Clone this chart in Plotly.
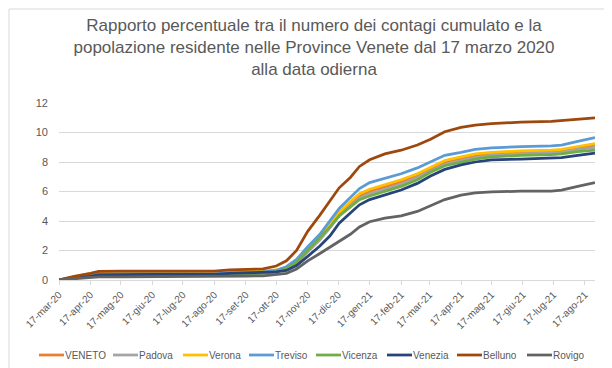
import plotly.graph_objects as go

# ---------------- data ----------------
dates = [
    "2020-03-17", "2020-04-01", "2020-04-17", "2020-04-25", "2020-05-17",
    "2020-06-17", "2020-07-17", "2020-08-17", "2020-09-01", "2020-09-17",
    "2020-10-04", "2020-10-17", "2020-10-27", "2020-11-06", "2020-11-17",
    "2020-11-29", "2020-12-09", "2020-12-18", "2020-12-29", "2021-01-07",
    "2021-01-17", "2021-02-01", "2021-02-17", "2021-03-05", "2021-03-18",
    "2021-04-01", "2021-04-17", "2021-05-01", "2021-05-17", "2021-06-15",
    "2021-07-15", "2021-07-25", "2021-08-10", "2021-08-27",
]

veneto = [0, 0.15, 0.32, 0.40, 0.42, 0.42, 0.42, 0.42, 0.48, 0.50,
          0.53, 0.60, 0.80, 1.20, 1.95, 2.80, 3.65, 4.50, 5.15, 5.70,
          6.00, 6.30, 6.65, 7.05, 7.50, 7.95, 8.20, 8.40, 8.55, 8.65,
          8.70, 8.75, 8.95, 9.15]
padova = [0, 0.14, 0.32, 0.42, 0.44, 0.44, 0.44, 0.44, 0.47, 0.48,
          0.50, 0.56, 0.76, 1.15, 1.90, 2.70, 3.55, 4.35, 5.00, 5.55,
          5.85, 6.15, 6.50, 6.95, 7.40, 7.85, 8.10, 8.30, 8.45, 8.55,
          8.60, 8.65, 8.85, 9.00]
verona = [0, 0.20, 0.45, 0.50, 0.50, 0.50, 0.50, 0.50, 0.55, 0.58,
          0.60, 0.68, 0.85, 1.30, 2.05, 2.90, 3.75, 4.60, 5.30, 5.85,
          6.15, 6.45, 6.80, 7.20, 7.65, 8.10, 8.35, 8.55, 8.65, 8.75,
          8.80, 8.85, 9.05, 9.25]
treviso = [0, 0.15, 0.30, 0.40, 0.42, 0.42, 0.42, 0.42, 0.50, 0.52,
           0.55, 0.65, 0.90, 1.40, 2.25, 3.10, 4.00, 4.85, 5.60, 6.20,
           6.60, 6.90, 7.20, 7.60, 8.00, 8.45, 8.65, 8.85, 8.95, 9.05,
           9.10, 9.15, 9.40, 9.65]
vicenza = [0, 0.10, 0.25, 0.33, 0.35, 0.35, 0.35, 0.35, 0.40, 0.42,
           0.45, 0.55, 0.78, 1.20, 2.00, 2.80, 3.60, 4.35, 4.95, 5.45,
           5.70, 6.00, 6.35, 6.80, 7.30, 7.75, 8.00, 8.20, 8.35, 8.45,
           8.50, 8.55, 8.70, 8.80]
venezia = [0, 0.10, 0.25, 0.35, 0.38, 0.38, 0.38, 0.38, 0.45, 0.47,
           0.50, 0.55, 0.65, 0.98, 1.60, 2.30, 3.00, 3.85, 4.55, 5.10,
           5.45, 5.75, 6.10, 6.55, 7.05, 7.50, 7.80, 8.00, 8.15, 8.20,
           8.25, 8.30, 8.45, 8.60]
belluno = [0, 0.25, 0.45, 0.58, 0.60, 0.60, 0.60, 0.60, 0.68, 0.70,
           0.75, 0.95, 1.30, 2.00, 3.30, 4.40, 5.35, 6.25, 6.95, 7.70,
           8.15, 8.55, 8.80, 9.15, 9.55, 10.05, 10.35, 10.50, 10.60, 10.70,
           10.75, 10.80, 10.90, 11.00]
rovigo = [0, 0.07, 0.15, 0.22, 0.22, 0.22, 0.22, 0.22, 0.27, 0.27,
          0.28, 0.35, 0.45, 0.75, 1.30, 1.80, 2.25, 2.65, 3.10, 3.60,
          3.95, 4.20, 4.35, 4.65, 5.05, 5.45, 5.75, 5.90, 5.97, 6.02,
          6.02, 6.10, 6.35, 6.60]

series_names = ["VENETO", "Padova", "Verona", "Treviso", "Vicenza",
                "Venezia", "Belluno", "Rovigo"]
series_values = [veneto, padova, verona, treviso, vicenza, venezia,
                 belluno, rovigo]

tick_dates = [
    "2020-03-17", "2020-04-17", "2020-05-17", "2020-06-17", "2020-07-17",
    "2020-08-17", "2020-09-17", "2020-10-17", "2020-11-17", "2020-12-17",
    "2021-01-17", "2021-02-17", "2021-03-17", "2021-04-17", "2021-05-17",
    "2021-06-17", "2021-07-17", "2021-08-17",
]
tick_labels = [
    "17-mar-20", "17-apr-20", "17-mag-20", "17-giu-20", "17-lug-20",
    "17-ago-20", "17-set-20", "17-ott-20", "17-nov-20", "17-dic-20",
    "17-gen-21", "17-feb-21", "17-mar-21", "17-apr-21", "17-mag-21",
    "17-giu-21", "17-lug-21", "17-ago-21",
]

title_text = ("Rapporto percentuale tra il numero dei contagi cumulato e la<br>"
              "popolazione residente nelle Province Venete dal 17 marzo 2020<br>"
              "alla data odierna")

# ---------------- style ----------------
colors = ["#ED7D31", "#A5A5A5", "#FFC000", "#5B9BD5", "#70AD47",
          "#264478", "#9E480E", "#636363"]
FONT = "Liberation Sans, Arial, sans-serif"
TXT = "#595959"
GRID = "#D9D9D9"

W, H = 612, 368
ML, MR, MT, MB = 51, 25, 95, 96
PW, PH = W - ML - MR, H - MT - MB


def px_x(px):
    return (px - ML) / PW


def px_y(py):
    return (H - MB - py) / PH


fig = go.Figure()
for name, vals, col in zip(series_names, series_values, colors):
    fig.add_trace(go.Scatter(
        x=dates, y=vals, name=name, mode="lines",
        line=dict(color=col, width=2.75),
        showlegend=False,
    ))

# custom compact legend (Excel style: short line + label)
legend_px = [31, 105, 175, 241, 308, 379, 449, 519]
legend_y = 347
sym_len = 25
shapes = []
annotations = []
for name, col, lx in zip(series_names, colors, legend_px):
    shapes.append(dict(type="line", xref="paper", yref="paper",
                       x0=px_x(lx), x1=px_x(lx + sym_len),
                       y0=px_y(legend_y), y1=px_y(legend_y),
                       line=dict(color=col, width=2.75)))
    annotations.append(dict(text=name, xref="paper", yref="paper",
                            x=px_x(lx + sym_len), y=px_y(legend_y),
                            xanchor="left", yanchor="middle", showarrow=False,
                            borderpad=0,
                            font=dict(family=FONT, size=10, color=TXT)))

# outer chart border
shapes.append(dict(type="rect", xref="paper", yref="paper",
                   x0=px_x(1), x1=px_x(W - 2), y0=px_y(H - 2), y1=px_y(1),
                   line=dict(color=GRID, width=1), layer="below"))

fig.update_layout(
    width=W, height=H,
    margin=dict(l=ML, r=MR, t=MT, b=MB, autoexpand=False),
    paper_bgcolor="white", plot_bgcolor="white",
    title=dict(text=title_text, x=0.5, xref="container", xanchor="center",
               y=1 - 23 / H, yref="container", yanchor="top",
               font=dict(family=FONT, size=17, color=TXT)),
    font=dict(family=FONT, color=TXT),
    showlegend=False,
    shapes=shapes,
    annotations=annotations,
    xaxis=dict(
        type="date", range=[dates[0], dates[-1]],
        tickvals=tick_dates, ticktext=tick_labels, tickangle=-45,
        ticks="outside", ticklen=4, tickcolor=GRID,
        showline=True, linecolor=GRID, linewidth=1,
        showgrid=False, zeroline=False,
        tickfont=dict(family=FONT, size=10, color=TXT),
        automargin=False,
    ),
    yaxis=dict(
        range=[0, 12], dtick=2, tick0=0,
        showgrid=True, gridcolor=GRID, gridwidth=1,
        showline=False, zeroline=False, ticks="",
        ticklabelstandoff=10,
        tickfont=dict(family=FONT, size=11, color=TXT),
        automargin=False,
    ),
)

fig.write_html("out.html")
